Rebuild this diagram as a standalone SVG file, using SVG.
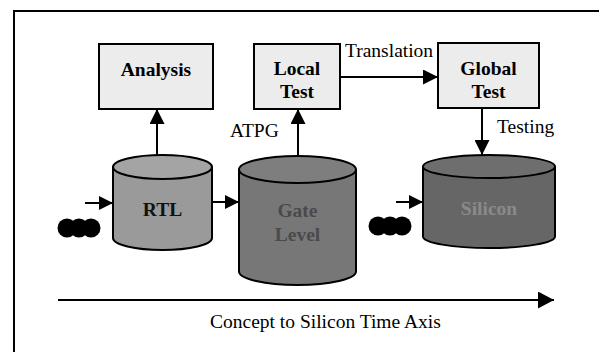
<svg xmlns="http://www.w3.org/2000/svg" width="599" height="352" viewBox="0 0 599 352">
<defs>
<marker id="ah" viewBox="0 0 10 10" refX="10" refY="5" markerWidth="15" markerHeight="15" markerUnits="userSpaceOnUse" orient="auto">
<path d="M0,0 L10,5 L0,10 z" fill="#000"/>
</marker>
<marker id="ahs" viewBox="0 0 10 10" refX="10" refY="5" markerWidth="14" markerHeight="14" markerUnits="userSpaceOnUse" orient="auto">
<path d="M0,0 L10,5 L0,10 z" fill="#000"/>
</marker>
<marker id="ahb" viewBox="0 0 10 10" refX="10" refY="5" markerWidth="16" markerHeight="17" markerUnits="userSpaceOnUse" orient="auto" preserveAspectRatio="none">
<path d="M0,0 L10,5 L0,10 z" fill="#000"/>
</marker>
</defs>
<style>
.box{fill:#ececec;stroke:#000;stroke-width:2}
.cyl{stroke:#000;stroke-width:2}
text{font-family:'Liberation Serif','Times New Roman',serif}
.bl{font-weight:bold;font-size:19.5px;text-anchor:middle}
.lbl{font-size:19.5px}
.conn{stroke:#000;stroke-width:2;fill:none}
</style>
<rect width="599" height="352" fill="#fff"/>
<path d="M14,352 L14,11 L599,11" fill="none" stroke="#000" stroke-width="2"/>

<g id="analysis">
<rect class="box" x="99" y="44" width="114" height="65"/>
<text class="bl" x="156" y="76">Analysis</text>
</g>
<g id="local-test">
<rect class="box" x="254" y="44" width="86" height="65"/>
<text class="bl" x="297" y="75">Local</text>
<text class="bl" x="297" y="98">Test</text>
</g>
<g id="global-test">
<rect class="box" x="438" y="43" width="101" height="65"/>
<text class="bl" x="488.5" y="75">Global</text>
<text class="bl" x="488.5" y="98">Test</text>
</g>

<g id="rtl">
<path class="cyl" fill="#9a9a9a" d="M113,167 L113,238 A49.5,12 0 0 0 212,238 L212,167"/>
<ellipse class="cyl" fill="#a4a4a4" cx="162.5" cy="167" rx="49.5" ry="12"/>
<text class="bl" x="162.5" y="216" fill="#111">RTL</text>
</g>
<g id="gate-level">
<path class="cyl" fill="#777" d="M239,169.5 L239,271.5 A58.5,13.5 0 0 0 356,271.5 L356,169.5"/>
<ellipse class="cyl" fill="#7e7e7e" cx="297.5" cy="169.5" rx="58.5" ry="13.5"/>
<text class="bl" x="297.5" y="217" fill="#4a4a4a">Gate</text>
<text class="bl" x="297.5" y="241" fill="#4a4a4a">Level</text>
</g>
<g id="silicon">
<path class="cyl" fill="#666" d="M423,166.5 L423,236.5 A66,11.5 0 0 0 555,236.5 L555,166.5"/>
<ellipse class="cyl" fill="#6e6e6e" cx="489" cy="166.5" rx="66" ry="11.5"/>
<text class="bl" x="489" y="215" fill="#8a8a8a">Silicon</text>
</g>

<g id="dots1" fill="#000">
<circle cx="67" cy="228" r="9.5"/><circle cx="79" cy="228" r="9.5"/><circle cx="91" cy="228" r="9.5"/>
</g>
<g id="dots2" fill="#000">
<circle cx="378" cy="226" r="9.5"/><circle cx="390" cy="226" r="9.5"/><circle cx="402" cy="226" r="9.5"/>
</g>

<g id="connectors">
<line class="conn" x1="157" y1="155" x2="157" y2="109" marker-end="url(#ah)"/>
<line class="conn" x1="298" y1="156" x2="298" y2="109" marker-end="url(#ah)"/>
<line class="conn" x1="340" y1="77" x2="438" y2="77" marker-end="url(#ah)"/>
<line class="conn" x1="482" y1="108" x2="482" y2="155" marker-end="url(#ah)"/>
<line class="conn" x1="213" y1="202" x2="239" y2="202" marker-end="url(#ahs)"/>
<line class="conn" x1="85" y1="203" x2="113" y2="203" marker-end="url(#ahs)"/>
<line class="conn" x1="396" y1="202" x2="423" y2="202" marker-end="url(#ahs)"/>
<line class="conn" x1="58" y1="300" x2="554" y2="300" marker-end="url(#ahb)"/>
</g>

<text class="lbl" x="345" y="57">Translation</text>
<text class="lbl" x="230" y="137">ATPG</text>
<text class="lbl" x="497" y="133">Testing</text>
<text class="lbl" x="210" y="328">Concept to Silicon Time Axis</text>
</svg>
